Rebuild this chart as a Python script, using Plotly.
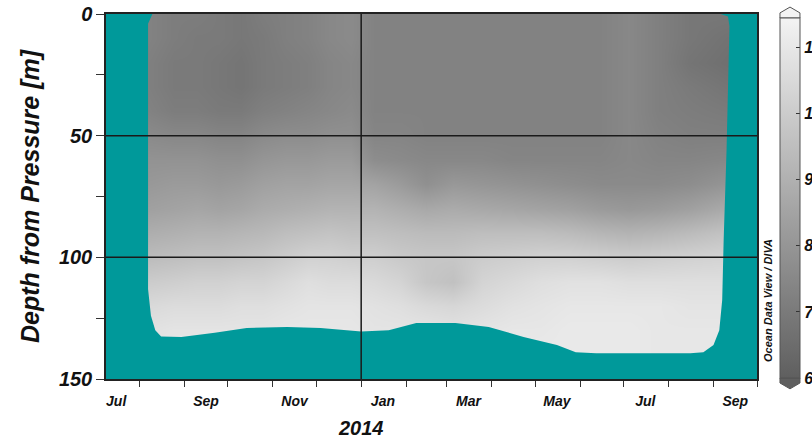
import plotly.graph_objects as go

# ---- data ----
col_dates = ['2013-08-07', '2013-08-25', '2013-09-10', '2013-09-25', '2013-10-10', '2013-10-25',
             '2013-11-10', '2013-11-25', '2013-12-10', '2013-12-25', '2014-01-10', '2014-01-28',
             '2014-02-15', '2014-03-05', '2014-03-25', '2014-04-15', '2014-05-05', '2014-05-25',
             '2014-06-15', '2014-07-05', '2014-07-25', '2014-08-15', '2014-09-12']
depths = [0, 10, 20, 30, 40, 50, 60, 70, 80, 90, 100, 110, 120, 130, 140]

# one profile (values at `depths`) per date column
profiles = [
    [7.3, 7.3, 7.2, 7.2, 7.3, 7.6, 7.9, 8.1, 8.4, 8.9, 9.4, 10.0, 10.5, 10.8, 10.9],
    [7.1, 7.1, 7.0, 7.0, 7.1, 7.5, 7.9, 8.2, 8.5, 9.0, 9.5, 10.1, 10.6, 10.9, 11.0],
    [7.1, 7.0, 7.0, 7.0, 7.1, 7.5, 7.9, 8.2, 8.6, 9.1, 9.6, 10.2, 10.6, 10.9, 11.0],
    [7.0, 7.0, 6.9, 6.9, 7.0, 7.4, 7.8, 8.1, 8.5, 9.1, 9.6, 10.2, 10.6, 10.9, 11.0],
    [6.9, 6.9, 6.8, 6.8, 7.0, 7.4, 7.8, 8.2, 8.6, 9.2, 9.7, 10.3, 10.7, 10.9, 11.0],
    [7.1, 7.0, 7.0, 7.0, 7.2, 7.6, 8.0, 8.4, 8.8, 9.3, 9.8, 10.3, 10.7, 10.9, 11.0],
    [7.2, 7.2, 7.1, 7.1, 7.3, 7.7, 8.1, 8.5, 8.9, 9.5, 10.0, 10.5, 10.8, 11.0, 11.0],
    [7.3, 7.3, 7.2, 7.2, 7.4, 7.7, 8.1, 8.5, 9.0, 9.6, 10.2, 10.7, 10.9, 11.0, 11.0],
    [7.5, 7.5, 7.4, 7.4, 7.5, 7.8, 8.2, 8.6, 9.1, 9.7, 10.2, 10.6, 10.9, 11.0, 11.0],
    [7.6, 7.6, 7.5, 7.5, 7.6, 7.8, 8.2, 8.6, 9.1, 9.6, 10.1, 10.6, 10.9, 11.0, 11.0],
    [7.3, 7.3, 7.3, 7.3, 7.3, 7.4, 7.7, 8.5, 9.1, 9.6, 10.1, 10.5, 10.8, 10.9, 11.0],
    [7.3, 7.3, 7.3, 7.3, 7.3, 7.4, 7.6, 8.2, 8.9, 9.5, 9.9, 10.3, 10.7, 10.9, 11.0],
    [7.3, 7.3, 7.3, 7.3, 7.3, 7.3, 7.5, 7.8, 8.7, 9.4, 9.8, 9.8, 10.5, 10.9, 11.0],
    [7.3, 7.3, 7.3, 7.3, 7.3, 7.3, 7.5, 8.1, 8.8, 9.4, 9.8, 9.6, 10.4, 10.8, 11.0],
    [7.3, 7.3, 7.3, 7.3, 7.3, 7.3, 7.5, 8.0, 8.7, 9.5, 10.0, 10.3, 10.6, 10.9, 11.0],
    [7.3, 7.3, 7.3, 7.3, 7.3, 7.3, 7.4, 7.9, 8.6, 9.5, 10.1, 10.5, 10.8, 11.0, 11.0],
    [7.3, 7.3, 7.3, 7.3, 7.3, 7.3, 7.4, 7.8, 8.5, 9.5, 10.2, 10.7, 10.9, 11.0, 11.1],
    [7.3, 7.3, 7.3, 7.3, 7.3, 7.3, 7.4, 7.7, 8.4, 9.4, 10.2, 10.8, 11.0, 11.1, 11.1],
    [7.3, 7.3, 7.3, 7.3, 7.3, 7.3, 7.4, 7.6, 8.2, 9.2, 10.1, 10.8, 11.0, 11.1, 11.1],
    [7.5, 7.5, 7.5, 7.5, 7.5, 7.5, 7.5, 7.6, 8.1, 9.1, 10.0, 10.7, 11.0, 11.1, 11.1],
    [7.2, 7.2, 7.2, 7.2, 7.2, 7.3, 7.4, 7.6, 8.2, 9.2, 10.1, 10.7, 11.0, 11.0, 11.0],
    [6.9, 6.9, 6.8, 7.0, 7.1, 7.2, 7.4, 7.7, 8.4, 9.4, 10.2, 10.7, 10.9, 11.0, 11.0],
    [6.9, 6.7, 6.6, 6.8, 7.0, 7.2, 7.5, 8.0, 8.8, 9.7, 10.3, 10.7, 10.9, 11.0, 11.0],
]

# outline of the sampled region (left edge, bottom, right edge)
edge_dates = ['2013-08-10', '2013-08-07', '2013-08-07', '2013-08-09', '2013-08-12', '2013-08-16',
              '2013-08-30', '2013-09-22', '2013-10-14', '2013-11-11', '2013-12-04', '2014-01-01',
              '2014-01-20', '2014-02-08', '2014-03-07', '2014-03-30', '2014-04-23', '2014-05-16',
              '2014-05-29', '2014-06-12', '2014-08-16', '2014-08-25', '2014-09-01', '2014-09-05',
              '2014-09-07', '2014-09-08', '2014-09-10', '2014-09-12', '2014-09-11', '2014-09-06']
edge_depths = [0, 4, 113, 124, 130, 132.5, 132.7, 131, 129, 128.6, 129, 130.5,
               130, 127, 127, 128.6, 132.7, 136, 139, 139.4, 139.4, 139, 136, 130,
               117.5, 93, 56, 5, 1, 0]

x_range = ['2013-07-09', '2014-10-01']
y_range = [150, 0]
month_labels = ['Jul', 'Sep', 'Nov', 'Jan', 'Mar', 'May', 'Jul', 'Sep']
label_dates = ['2013-07-16', '2013-09-16', '2013-11-16', '2014-01-16', '2014-03-16',
               '2014-05-16', '2014-07-16', '2014-09-16']
depth_ticks = [0, 50, 100, 150]
depth_minor = [25, 75, 125]
cbar_ticks = [6, 7, 8, 9, 10, 11]
grid_depths = [50, 100]
grid_dates = ['2014-01-01']
year_label = '2014'

TEAL = '#00999a'
FONT = 'Liberation Sans'

z = [[profiles[j][i] for j in range(len(col_dates))] for i in range(len(depths))]

fig = go.Figure()
fig.add_trace(go.Heatmap(
    x=col_dates, y=depths, z=z, zsmooth='best',
    zmin=6, zmax=11.45,
    colorscale=[[0, '#5f5f5f'], [1, '#f3f3f3']],
    colorbar=dict(
        x=1.0353, xanchor='left', xpad=0, y=0.496, yanchor='middle', ypad=0,
        len=0.986, lenmode='fraction', thickness=20,
        outlinewidth=1, outlinecolor='#555555',
        tickvals=cbar_ticks, ticks='inside', ticklen=4, tickcolor='#333333',
        tickfont=dict(family=FONT, size=16, color='#111111', weight='bold', style='italic'),
    ),
    hoverinfo='skip',
))

# teal mask outside the sampled region
mask_x = [x_range[0]] + edge_dates + [x_range[1], x_range[1], x_range[0]]
mask_y = [0] + edge_depths + [0, 150, 150]
fig.add_trace(go.Scatter(
    x=mask_x, y=mask_y, mode='lines', fill='toself', fillcolor=TEAL,
    line=dict(width=0, color=TEAL), hoverinfo='skip', showlegend=False,
))

shapes = []
for d in grid_depths:
    shapes.append(dict(type='line', xref='paper', x0=0, x1=1, yref='y', y0=d, y1=d,
                       line=dict(color='#1a1a1a', width=1.5), layer='above'))
for d in grid_dates:
    shapes.append(dict(type='line', xref='x', x0=d, x1=d, yref='paper', y0=0, y1=1,
                       line=dict(color='#1a1a1a', width=1.5), layer='above'))
# colorbar end arrows
shapes.append(dict(type='path', xref='paper', yref='paper',
                   path='M 1.0353 0.989 L 1.0353 1.003 L 1.0507 1.019 L 1.0660 1.003 L 1.0660 0.989 Z',
                   fillcolor='#f3f3f3', line=dict(color='#555555', width=1), layer='above'))
shapes.append(dict(type='path', xref='paper', yref='paper',
                   path='M 1.0353 0.0027 L 1.0353 -0.011 L 1.0507 -0.027 L 1.0660 -0.011 L 1.0660 0.0027 Z',
                   fillcolor='#5f5f5f', line=dict(color='#555555', width=1), layer='above'))

fig.update_layout(
    width=812, height=441,
    margin=dict(l=106, r=55, t=14, b=62, autoexpand=False),
    paper_bgcolor='white', plot_bgcolor=TEAL,
    showlegend=False,
    shapes=shapes,
    font=dict(family=FONT, color='#111111'),
    xaxis=dict(
        type='date', range=x_range,
        tickmode='array', tickvals=label_dates, ticktext=month_labels,
        ticks='outside', ticklen=0, ticklabelstandoff=8,
        tickfont=dict(family=FONT, size=14, weight='bold', style='italic', color='#111111'),
        minor=dict(tickmode='linear', tick0='2013-07-01', dtick='M1', ticks='outside',
                   ticklen=6, tickcolor='#333333', showgrid=False),
        showgrid=False, zeroline=False,
        showline=True, mirror=True, linecolor='#222222', linewidth=1.5,
    ),
    yaxis=dict(
        range=y_range, tickvals=depth_ticks, ticks='outside', ticklen=8, tickcolor='#333333',
        tickfont=dict(family=FONT, size=20, weight='bold', style='italic', color='#111111'),
        minor=dict(tickvals=depth_minor, ticks='outside', ticklen=8, tickcolor='#333333',
                   showgrid=False),
        showgrid=False, zeroline=False,
        showline=True, mirror=True, linecolor='#222222', linewidth=1.5,
        title=dict(text='Depth from Pressure [m]', standoff=12,
                   font=dict(family=FONT, size=25, weight='bold', style='italic', color='#111111')),
    ),
    annotations=[
        dict(text=year_label, xref='x', x='2014-01-01', yref='paper', y=-0.133,
             xanchor='center', yanchor='middle', showarrow=False,
             font=dict(family=FONT, size=20, weight='bold', style='italic', color='#111111')),
        dict(text='Ocean Data View / DIVA', xref='paper', x=(768 - 106) / 651, yref='paper',
             y=(379 - 300) / 365, xanchor='center', yanchor='middle', textangle=-90,
             showarrow=False,
             font=dict(family=FONT, size=11, weight='bold', style='italic', color='#111111')),
    ],
)

fig.write_html('out.html', config={'displayModeBar': False},
               post_script="document.body.style.margin='0';document.body.style.overflow='hidden';")
